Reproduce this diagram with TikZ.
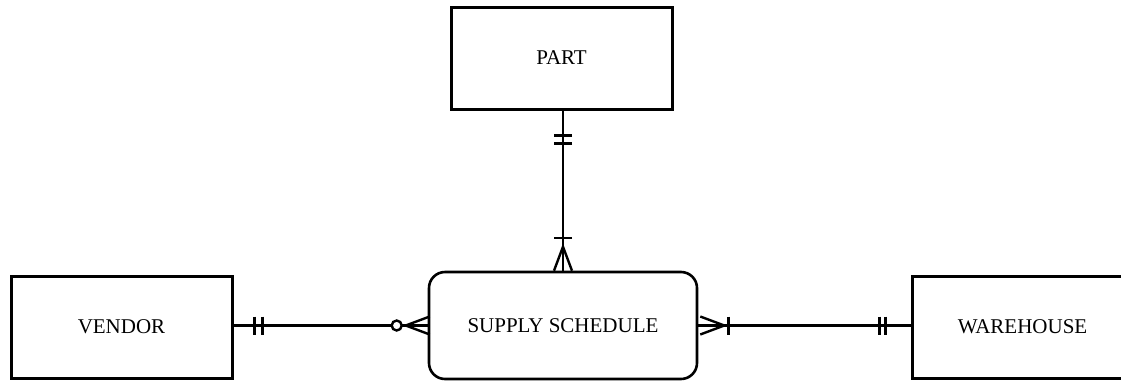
\documentclass[tikz,border=0pt]{standalone}
\usepackage{fontspec}
\setmainfont{Liberation Serif}
\usetikzlibrary{decorations.markings}
\tikzset{
  entity/.style={draw, line width=3pt, inner sep=0pt, minimum width=221pt, minimum height=102pt,
    font=\fontsize{21}{25}\selectfont},
  assoc/.style={draw, line width=2.6pt, inner sep=0pt, rounded corners=16pt, minimum width=268pt,
    minimum height=107pt, font=\fontsize{21}{25}\selectfont},
  link/.style={line width=2.4pt},
  crossbar/.style={postaction={decorate, decoration={markings,
    mark=at position #1 with {\draw[line width=2.4pt] (0,-9) -- (0,9);}}}},
  ring/.style={postaction={decorate, decoration={markings,
    mark=at position #1 with {\draw[line width=2.4pt, fill=white] (0,0) circle (5);}}}},
  crowend/.style={postaction={decorate, decoration={markings,
    mark=at position #1 with {\draw[line width=2.4pt] (24,-9) -- (0,0) -- (24,9);}}}},
  crowstart/.style={postaction={decorate, decoration={markings,
    mark=at position #1 with {\draw[line width=2.4pt] (0,-9) -- (24,0) -- (0,9);}}}}
}

\begin{document}
\begin{tikzpicture}[x=1pt, y=-1pt]
  \clip (0,0) rectangle (1121,381);
  % entities
  \node[entity] (part) at (561.5,58) {PART};
  \node[entity] (vendor) at (121.5,327) {VENDOR};
  \node[entity] (warehouse) at (1022.5,327) {WAREHOUSE};
  \node[assoc] (schedule) at (563,325.5) {SUPPLY SCHEDULE};
  % relationships
  \draw[link, crossbar=25pt, crossbar=33pt, crossbar=-33pt, crowend=-24pt]
    (part.south -| schedule.north) -- (schedule.north);
  \draw[link, crossbar=21pt, crossbar=29pt, ring=-31pt, crowend=-22pt]
    (vendor.east |- schedule.west) -- (schedule.west);
  \draw[link, crowstart=2pt, crossbar=30pt, crossbar=-31pt, crossbar=-25pt]
    (schedule.east) -- (warehouse.west |- schedule.east);
\end{tikzpicture}
\end{document}
